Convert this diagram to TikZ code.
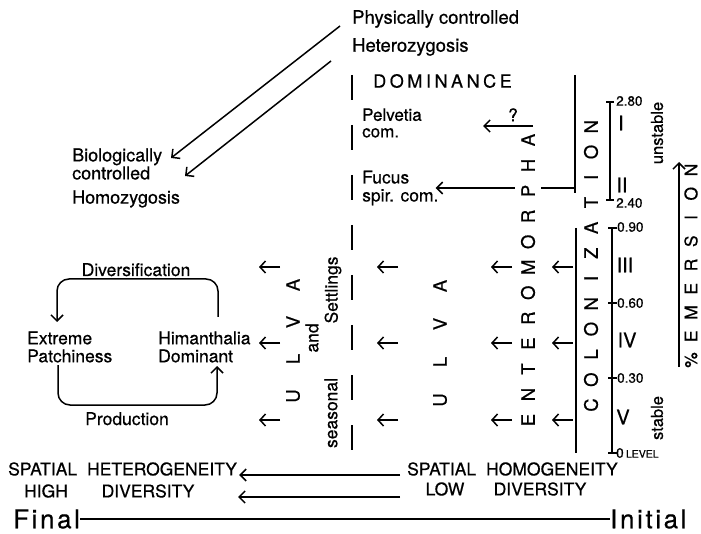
\documentclass[tikz,border=0pt]{standalone}
\usepackage{fontspec}
\setmainfont{TeX Gyre Heros}[FakeBold=0.5]
\usetikzlibrary{calc, positioning, arrows.meta}
\tikzset{
    lab/.style={font=\fontsize{17.5}{18}\selectfont, inner sep=0pt, align=left},
    head/.style={font=\fontsize{18}{18}\selectfont\addfontfeature{LetterSpace=20}, inner sep=0pt},
    vlet/.style={font=\fontsize{18.5}{18}\selectfont, rotate=90, inner xsep=1pt, inner ysep=6pt, fill=white},
    vtxt/.style={font=\fontsize{17.5}{17}\selectfont, rotate=90, inner sep=0pt},
    num/.style={font=\fontsize{13.5}{13}\selectfont, inner sep=0pt, anchor=west},
    roman/.style={font=\fontsize{20}{20}\selectfont, inner sep=0pt},
    ends/.style={font=\fontsize{26}{26}\selectfont\addfontfeature{LetterSpace=10}, inner sep=0pt},
    arrow/.style={-{Straight Barb[length=6pt, width=12pt, line width=1.5pt]}, line width=1.5pt},
    sarrow/.style={-{Straight Barb[length=5.5pt, width=12pt, line width=1.5pt]}, line width=1.5pt},
    rule/.style={line width=1.8pt},
    tick/.style={line width=1.1pt}
}

\begin{document}
\begin{tikzpicture}[x=1pt, y=-1pt]
        \useasboundingbox[fill=white] (0,0) rectangle (701,534);

        % Control and zygosis
        \node[lab, anchor=west, font=\fontsize{18.5}{18}\selectfont] (Phys) at (352,19) {Physically controlled};
        \node[lab, anchor=west, font=\fontsize{18.5}{18}\selectfont] (Hetero) at (352,47) {Heterozygosis};
        \node[lab, anchor=west, font=\fontsize{18}{17}\selectfont] (Bio) at (72,164) {Biologically\\controlled};
        \node[lab, anchor=west, font=\fontsize{18}{17}\selectfont] (Homo) at (72,199) {Homozygosis};
        \coordinate (PhysEnd) at (340,26);
        \coordinate (HetEnd) at (331,61);
        \coordinate (BioTip) at (171,158);
        \coordinate (HomoTip) at (185,176);
        \draw[arrow] (PhysEnd) -- (BioTip);
        \draw[arrow] (HetEnd) -- (HomoTip);

        % Dominance
        \node[head, anchor=west] (Dom) at (373,81) {DOMINANCE};
        \coordinate (DomTop) at (352,75);
        \coordinate (DomBot) at (352,457);
        \draw[rule, dash pattern=on 25pt off 25pt] (DomTop) -- (DomBot);
        \node[lab, anchor=west, font=\fontsize{17}{16.5}\selectfont] (Pelv) at (362,123) {Pelvetia\\com.};
        \node[lab, anchor=west] (Fucus) at (362,188) {Fucus\\spir. com.};
        \coordinate (QStart) at (533,126);
        \coordinate (QTip) at (483,126);
        \draw[arrow] (QStart) -- node[lab, above=4pt, pos=0.4] (Q) {?} (QTip);

        % Colonization
        \coordinate (ColTop) at (575,75);
        \coordinate (ColMid) at (575,193);
        \coordinate (ColLow) at (576,228);
        \coordinate (ColBot) at (576,453);
        \draw[rule] (ColTop) -- (ColMid);
        \draw[rule] (ColLow) -- (ColBot);
        \coordinate (FucStart) at (575,188);
        \draw[arrow] (FucStart) -- ([xshift=-3pt]Fucus.east |- FucStart);
        \foreach \ch [count=\i from 0] in {E,N,T,E,R,O,M,O,R,P,H,A}
            \node[vlet] (Ent-\i) at (528,{420-25.45*\i}) {\ch};
        \foreach \ch [count=\i from 0] in {C,O,L,O,N,I,Z,A,T,I,O,N}
            \node[vlet] (Col-\i) at (591,{405-25.3*\i}) {\ch};

        % Ulva columns
        \foreach \ch [count=\i from 0] in {U,L,V,A} {
            \node[vlet] (UlvaA-\i) at (293,{396-37*\i}) {\ch};
            \node[vlet] (UlvaB-\i) at (440,{400-38*\i}) {\ch};
        }
        \node[vtxt] (And) at (312,338) {and};
        \node[vtxt] (Settl) at (333,290) {Settlings};
        \node[vtxt] (Season) at (331,413) {seasonal};

        % Rows of settling arrows
        \foreach \y [count=\r] in {267,343,420}
            \foreach \x [count=\c] in {280,398,512,573} {
                \coordinate (S-\r-\c) at (\x,\y);
                \coordinate (E-\r-\c) at (\x-21,\y);
                \draw[sarrow] (S-\r-\c) -- (E-\r-\c);
            }

        % Emersion scale
        \draw[tick] (610,102) -- (610,200);
        \draw[tick] (606,102) -- (614,102);
        \draw[tick] (606,200) -- (614,200);
        \draw[tick] (612,228) -- (612,453);
        \foreach \y in {228,303,378,453}
            \draw[tick] (608,\y) -- (617,\y);
        \node[num] (L280) at (616,101) {2.80};
        \node[num] (L240) at (616,203) {2.40};
        \node[num] (L090) at (617,227) {0.90};
        \node[num] (L060) at (617,303) {0.60};
        \node[num] (L030) at (617,378) {0.30};
        \node[num] (L000) at (616,453) {0\,{\fontsize{10.5}{10}\selectfont LEVEL}};
        \node[roman] (ZoneI) at (621,123) {I};
        \node[roman] (ZoneII) at (622,185) {II};
        \node[roman] (ZoneIII) at (625,265) {III};
        \node[roman] (ZoneIV) at (627,340) {IV};
        \node[roman] (ZoneV) at (623,417) {V};
        \node[vtxt, font=\fontsize{16.5}{16}\selectfont] (Unst) at (657,133) {unstable};
        \node[vtxt, font=\fontsize{16.5}{16}\selectfont] (Stab) at (657,418) {stable};
        \coordinate (EmBot) at (679,367);
        \coordinate (EmTop) at (679,162);
        \draw[arrow] (EmBot) -- (EmTop);
        \foreach \ch [count=\i from 0] in {\%,E,M,E,R,S,I,O,N}
            \node[vlet, fill=none, font=\fontsize{17.5}{17}\selectfont] (Em-\i) at (691,{360-23.75*\i}) {\ch};

        % Patchiness cycle
        \node[lab, anchor=west] (Extr) at (27,347) {Extreme\\Patchiness};
        \node[lab, anchor=west] (Himan) at (158,347) {Himanthalia\\Dominant};
        \coordinate (HimTop) at (218,317);
        \coordinate (ExtTop) at (57,279);
        \coordinate (ExtTip) at (57,322);
        \coordinate (ExtBot) at (58,365);
        \coordinate (HimLow) at (217,405);
        \coordinate (HimTip) at (217,366);
        \draw[arrow, rounded corners=12pt] (HimTop) |- (ExtTop) -- (ExtTip);
        \draw[arrow, rounded corners=12pt] (ExtBot) |- (HimLow) -- (HimTip);
        \node[lab, anchor=base] (Divers) at (136,276) {Diversification};
        \node[lab, anchor=base] (Prod) at (127,425) {Production};

        % Spatial heterogeneity and homogeneity
        \node[lab, anchor=west] (SpHet) at (8,469) {SPATIAL\hspace{10pt}HETEROGENEITY};
        \node[lab] (High) at (46,491) {HIGH};
        \node[lab] (DivHi) at (148,491) {DIVERSITY};
        \node[lab, anchor=west] (SpHom) at (407,469) {SPATIAL\hspace{10pt}HOMOGENEITY};
        \node[lab] (Low) at (445,489) {LOW};
        \node[lab] (DivLo) at (540,489) {DIVERSITY};
        \coordinate (HomA) at (400,475);
        \coordinate (HomB) at (400,497);
        \draw[arrow] (HomA) -- ([xshift=2pt]SpHet.east |- HomA);
        \draw[arrow] (HomB) -- (238,497);

        % Succession axis
        \node[ends, anchor=west] (Final) at (13,519) {Final};
        \node[ends, anchor=west] (Initial) at (610,519) {Initial};
        \draw[rule] (Final.east) -- (Initial.west);
    \end{tikzpicture}
\end{document}
